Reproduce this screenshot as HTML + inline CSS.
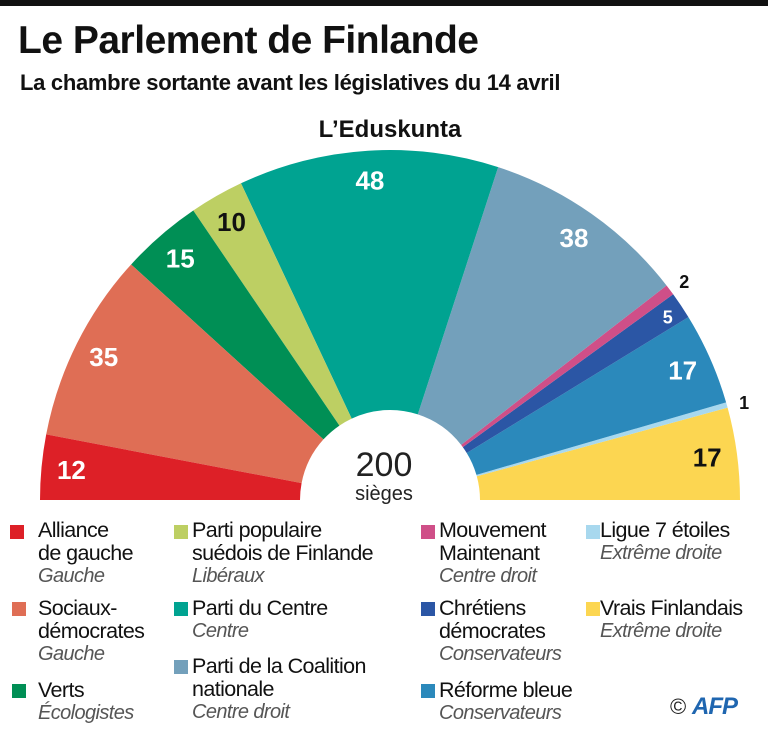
<!DOCTYPE html>
<html><head><meta charset="utf-8">
<style>
body{margin:0;width:768px;height:740px;background:#fff;font-family:"Liberation Sans",sans-serif;position:relative;overflow:hidden;color:#111}
.bar{position:absolute;left:0;top:0;width:768px;height:6px;background:#111}
h1{position:absolute;left:18px;top:19px;margin:0;font-size:39px;font-weight:bold;letter-spacing:-0.5px}
.sub{position:absolute;left:20px;top:70px;font-size:22px;font-weight:bold;letter-spacing:-0.3px}
.leg{position:absolute;font-size:21.5px;line-height:23px;letter-spacing:-0.6px}
.leg i{color:#555;font-size:20px;display:block}
.sq{position:absolute;width:14px;height:14px}
svg{position:absolute;left:0;top:0}
</style></head><body>
<div class="bar"></div>
<h1>Le Parlement de Finlande</h1>
<div class="sub">La chambre sortante avant les législatives du 14 avril</div>
<svg width="768" height="740" id="chart">
<text x="390" y="137" text-anchor="middle" font-size="24" font-weight="bold" fill="#111">L’Eduskunta</text>
<text x="384" y="476" text-anchor="middle" font-size="34" fill="#222">200</text>
<text x="384" y="500" text-anchor="middle" font-size="20" fill="#222">sièges</text>
</svg>
<script>
const parties=["Alliance de gauche","Sociaux-démocrates","Verts","Parti populaire suédois de Finlande","Parti du Centre","Parti de la Coalition nationale","Mouvement Maintenant","Chrétiens démocrates","Réforme bleue","Ligue 7 étoiles","Vrais Finlandais"];
const seats=[12,35,15,10,48,38,2,5,17,1,17];
const colors=["#dd2027","#df6e55","#008f55","#bdcf63","#00a391","#73a0bb","#cf4f88","#2b56a5","#2b89bb","#a8d8ee","#fcd651"];
const labelFill=["#fff","#fff","#fff","#111","#fff","#fff","#111","#fff","#fff","#111","#111"];
const cx=390,cy=500,R=350,r0=90;
const svg=document.getElementById('chart');
const total=seats.reduce((a,b)=>a+b,0);
const ns="http://www.w3.org/2000/svg";
let acc=0;
function pt(a,r){return [cx+r*Math.cos(a),cy-r*Math.sin(a)];}
seats.forEach((v,i)=>{
 const a0=Math.PI*(1-acc/total), a1=Math.PI*(1-(acc+v)/total);
 const p1=pt(a0,r0),p2=pt(a0,R),p3=pt(a1,R),p4=pt(a1,r0);
 const path=document.createElementNS(ns,'path');
 path.setAttribute('d',`M${p1}L${p2}A${R},${R} 0 0 1 ${p3}L${p4}A${r0},${r0} 0 0 0 ${p1}Z`);
 path.setAttribute('fill',colors[i]);
 
 
 svg.insertBefore(path,svg.firstChild);
 const am=(a0+a1)/2;
 const lr=v<=2?368:(v<=5?334:320);
 const lp=pt(am,lr);
 const t=document.createElementNS(ns,'text');
 t.setAttribute('x',lp[0]);t.setAttribute('y',lp[1]+9);
 t.setAttribute('text-anchor','middle');
 t.setAttribute('font-size',v<=5?18:26);
 t.setAttribute('font-weight','bold');
 t.setAttribute('fill',labelFill[i]);
 t.textContent=v;
 
 
 svg.appendChild(t);
 acc+=v;
});
</script>
<div class="sq" style="left:10px;top:525px;background:#dd2027"></div>
<div class="leg" style="left:38px;top:519px">Alliance<br>de gauche<i>Gauche</i></div>
<div class="sq" style="left:12px;top:602px;background:#df6e55"></div>
<div class="leg" style="left:38px;top:597px">Sociaux-<br>démocrates<i>Gauche</i></div>
<div class="sq" style="left:12px;top:684px;background:#008f55"></div>
<div class="leg" style="left:38px;top:679px">Verts<i>Écologistes</i></div>

<div class="sq" style="left:174px;top:525px;background:#bdcf63"></div>
<div class="leg" style="left:192px;top:519px">Parti populaire<br>suédois de Finlande<i>Libéraux</i></div>
<div class="sq" style="left:174px;top:602px;background:#00a391"></div>
<div class="leg" style="left:192px;top:597px">Parti du Centre<i>Centre</i></div>
<div class="sq" style="left:174px;top:660px;background:#73a0bb"></div>
<div class="leg" style="left:192px;top:655px">Parti de la Coalition<br>nationale<i>Centre droit</i></div>

<div class="sq" style="left:421px;top:525px;background:#cf4f88"></div>
<div class="leg" style="left:439px;top:519px">Mouvement<br>Maintenant<i>Centre droit</i></div>
<div class="sq" style="left:421px;top:602px;background:#2b56a5"></div>
<div class="leg" style="left:439px;top:597px">Chrétiens<br>démocrates<i>Conservateurs</i></div>
<div class="sq" style="left:421px;top:684px;background:#2b89bb"></div>
<div class="leg" style="left:439px;top:679px">Réforme bleue<i>Conservateurs</i></div>

<div class="sq" style="left:586px;top:525px;background:#a8d8ee"></div>
<div class="leg" style="left:600px;top:519px">Ligue 7 étoiles<i>Extrême droite</i></div>
<div class="sq" style="left:586px;top:602px;background:#fcd651"></div>
<div class="leg" style="left:600px;top:597px">Vrais Finlandais<i>Extrême droite</i></div>

<div style="position:absolute;left:670px;top:694px;font-size:22px;color:#222">©</div>
<div style="position:absolute;left:692px;top:693px;font-size:24px;font-weight:bold;font-style:italic;color:#1f66b0;letter-spacing:-1px">AFP</div>
</body></html>
